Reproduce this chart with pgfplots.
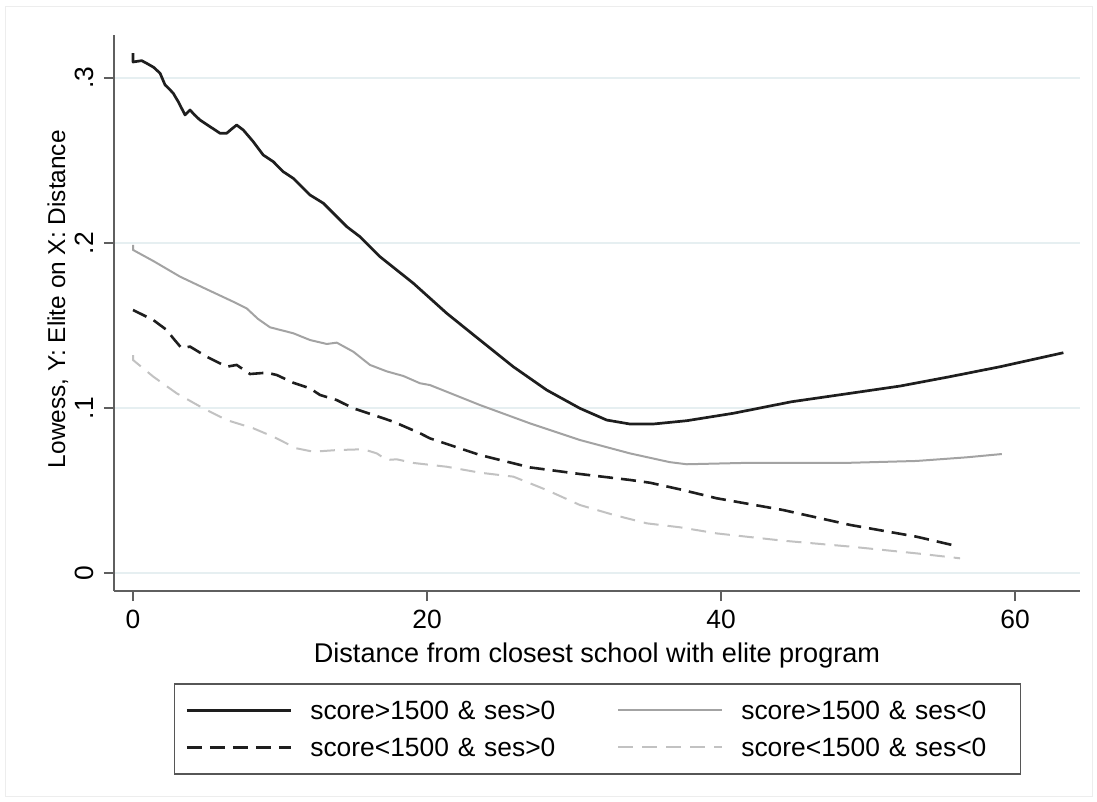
\documentclass[border=0pt]{standalone}
\usepackage{pgfplots}
\pgfplotsset{compat=1.18}
\usepackage{fontspec}
\setmainfont{Liberation Sans}
\definecolor{spine}{HTML}{5F5F5F}
\definecolor{gridc}{HTML}{E6EFF1}
\definecolor{lgray}{HTML}{A3A3A3}
\definecolor{llgray}{HTML}{C2C2C2}
\definecolor{dblack}{HTML}{1E1E1E}
\newcommand\F{\fontsize{26.5}{31}\selectfont}
\begin{document}
\begin{tikzpicture}
\useasboundingbox (0,0) rectangle (1097bp,802bp);
\draw[draw=black!7, line width=1bp] (5bp,5bp) rectangle (1092bp,795bp);
\begin{axis}[
  at={(114bp,211bp)}, anchor=south west,
  scale only axis, width=966bp, height=556bp,
  xmin=-1.293, xmax=64.42, ymin=-0.01091, ymax=0.32606,
  axis x line=bottom, axis y line=left,
  axis line style={-, draw=spine, line width=2bp},
  xtick={0,20,40,60}, xticklabels={0,20,40,60},
  ytick={0,0.1,0.2,0.3}, yticklabels={0,.1,.2,.3},
  tick align=outside, major tick length=10bp,
  tick style={draw=spine, line width=1.6bp},
  ymajorgrids, major grid style={draw=gridc, line width=1.5bp},
  ticklabel style={font=\F, inner sep=0pt},
  xticklabel style={anchor=north, yshift=-9bp},
  yticklabel style={xshift=-10bp, anchor=south, rotate=90},
  xlabel={Distance from closest school with elite program},
  xlabel style={font=\fontsize{27.2}{31}\selectfont, inner sep=0pt,
    at={(axis description cs:0.5,-0.1277)}, anchor=base},
  ylabel={Lowess, Y: Elite on X: Distance},
  ylabel style={font=\fontsize{24.5}{29}\selectfont, inner sep=0pt,
    at={(axis description cs:-0.0507,0.525)}, anchor=base},
  legend columns=2,
  legend cell align=left,
  legend image code/.code={\draw[#1] (0bp,0bp) -- (104bp,0bp);},
  legend style={at={(0.5005,-0.1655)}, anchor=north,
    draw=spine!90!black, line width=1.6bp, fill=white,
    inner xsep=11bp, inner ysep=17bp, row sep=18bp,
    font=\F,
    nodes={inner sep=0pt, text height=19bp, text depth=0bp, text width=268bp, align=left},
    /tikz/every odd column/.append style={column sep=18bp},
    /tikz/column 2/.append style={column sep=39bp}},
]
\addplot[dblack, line width=2.7bp, line join=round] coordinates {
(0,0.315) (0,0.3097) (0.59,0.3105) (0.93,0.3089) (1.4,0.3065) (1.84,0.3029)
(2.18,0.2958) (2.45,0.2935) (2.74,0.2907) (3.08,0.2856) (3.54,0.2776)
(3.88,0.2806) (4.2,0.2775) (4.56,0.2745) (5.24,0.2705) (5.92,0.2665)
(6.37,0.2665) (6.7,0.269) (7.05,0.2715) (7.50,0.2685) (8.18,0.2614)
(8.86,0.2533) (9.54,0.2493) (10.22,0.2432) (10.90,0.2392) (12.04,0.2291)
(12.95,0.2241) (14.54,0.2099) (15.44,0.2038) (16.80,0.1917) (19.07,0.1756)
(21.34,0.1574) (23.6,0.1412) (25.87,0.125) (28.14,0.1109) (30.4,0.0998)
(32.22,0.0927) (33.8,0.0903) (35.4,0.0903) (37.67,0.0923) (40.84,0.0968)
(43.67,0.1018) (44.81,0.1038) (48.78,0.1089) (52.18,0.1133) (55.58,0.119)
(58.98,0.125) (63.29,0.1335)};
\addlegendentry{score>1500 \& ses>0}
\addplot[lgray, line width=2bp, line join=round] coordinates {
(0,0.1988) (0,0.1958) (1.4,0.1890) (3.2,0.1796) (5.0,0.172) (6.82,0.1644)
(7.73,0.1604) (8.5,0.154) (9.32,0.1489) (10.9,0.1453) (12.04,0.1412)
(13.18,0.1388) (13.86,0.1396) (14.99,0.1341) (16.12,0.1261) (17.26,0.1222)
(18.39,0.1194) (19.52,0.115) (20.2,0.1139) (23.6,0.1018) (27.0,0.0907)
(30.4,0.0806) (33.8,0.0725) (36.5,0.0672) (37.67,0.0659) (42.0,0.0668)
(48.8,0.0668) (53.3,0.0679) (56.7,0.0701) (59.1,0.0721)};
\addlegendentry{score>1500 \& ses<0}
\addplot[dblack, line width=2.6bp, dash pattern=on 15bp off 8bp] coordinates {
(0,0.1594) (1.38,0.1533) (2.29,0.1473) (2.74,0.1422) (3.31,0.1362)
(3.88,0.1372) (5.01,0.1311) (6.37,0.125) (7.05,0.1261) (7.96,0.1206)
(9.1,0.1214) (9.78,0.12) (10.9,0.1153) (12.04,0.1119) (12.72,0.1079)
(13.86,0.1048) (14.99,0.0998) (16.35,0.0958) (17.71,0.0917) (19.52,0.0847)
(20.2,0.0816) (23.6,0.0715) (27.0,0.064) (30.4,0.06) (33.8,0.0564)
(35.17,0.0547) (37.2,0.0507) (39.7,0.0453) (44.2,0.0382) (48.8,0.0291)
(53.3,0.022) (56.0,0.0164)};
\addlegendentry{score<1500 \& ses>0}
\addplot[llgray, line width=2bp, dash pattern=on 15bp off 9bp] coordinates {
(0,0.1321) (0,0.1291) (1.38,0.119) (2.97,0.1089) (4.78,0.0998) (6.37,0.0927)
(8.18,0.0877) (9.54,0.0826) (11.1,0.0756) (12.27,0.0735) (13.86,0.0745)
(15.67,0.075) (16.58,0.0725) (17.26,0.0685) (17.94,0.0689) (19.07,0.0667)
(21.34,0.0644) (23.6,0.0608) (25.87,0.0584) (28.14,0.0503) (30.4,0.0412)
(32.7,0.0352) (34.95,0.0301) (37.2,0.0277) (39.7,0.024) (44.2,0.0196)
(48.8,0.016) (53.3,0.0119) (56.26,0.0089)};
\addlegendentry{score<1500 \& ses<0}
\end{axis}
\end{tikzpicture}
\end{document}
